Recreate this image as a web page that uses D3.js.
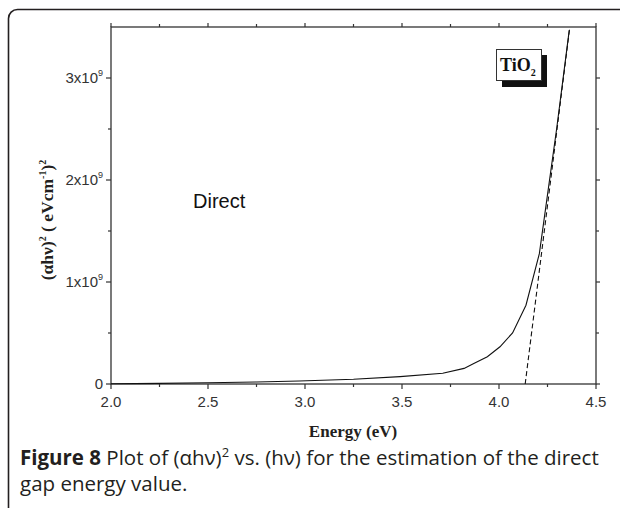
<!DOCTYPE html>
<html><head><meta charset="utf-8">
<script src="https://cdn.jsdelivr.net/npm/d3@7"></script>
<style>body{margin:0;background:#fff}svg{display:block}</style>
</head><body>
<svg id="c" width="620" height="508"></svg>
<script>
// Data (values in units of 1e9)
const energy = [2.0, 2.25, 2.5, 2.75, 2.97, 3.25, 3.49, 3.71, 3.82, 3.87, 3.94, 4.005, 4.07, 4.139, 4.208, 4.246, 4.297, 4.362];
const alphaHv2 = [0.003, 0.006, 0.012, 0.02, 0.029, 0.046, 0.072, 0.105, 0.153, 0.202, 0.267, 0.365, 0.501, 0.772, 1.278, 1.80, 2.50, 3.467];
const fitEnergy = [4.135, 4.365];
const fitValue = [0, 3.5];
const xTicks = [2.0, 2.5, 3.0, 3.5, 4.0, 4.5];
const yTicks = [0, 1, 2, 3];
const yTickLabels = ["0", "1x10", "2x10", "3x10"];

const svg = d3.select("#c");
const ink = "#231f20";

// frame
svg.append("rect").attr("x", 8.5).attr("y", 9.5).attr("width", 640).attr("height", 520)
  .attr("rx", 9).attr("fill", "none").attr("stroke", ink).attr("stroke-width", 1.6);

const L = 111, R = 596, T = 27, B = 384;
const x = d3.scaleLinear().domain([2.0, 4.5]).range([L, R]);
const y = d3.scaleLinear().domain([0, 3.5]).range([B, T]);

const g = svg.append("g");
// plot box
g.append("rect").attr("x", L).attr("y", T).attr("width", R - L).attr("height", B - T)
  .attr("fill", "none").attr("stroke", "#333").attr("stroke-width", 1.3);

// ticks
const xMinor = d3.range(2.25, 4.5, 0.5);
const yMinor = [0.5, 1.5, 2.5];
function tk(x1, y1, x2, y2) {
  g.append("line").attr("x1", x1).attr("y1", y1).attr("x2", x2).attr("y2", y2)
    .attr("stroke", "#333").attr("stroke-width", 1.2);
}
xTicks.forEach(v => { tk(x(v), B, x(v), B + 5); tk(x(v), T, x(v), T - 4); });
xMinor.forEach(v => { tk(x(v), B, x(v), B + 3); tk(x(v), T, x(v), T - 3); });
yTicks.forEach(v => { tk(L, y(v), L - 5, y(v)); tk(R, y(v), R + 4, y(v)); });
yMinor.forEach(v => { tk(L, y(v), L - 3, y(v)); tk(R, y(v), R + 3, y(v)); });

// x tick labels
xTicks.forEach(v => {
  g.append("text").attr("x", x(v)).attr("y", B + 23).attr("text-anchor", "middle")
    .attr("font-family", "Liberation Sans, Arial, sans-serif").attr("font-size", 15).attr("fill", "#333")
    .text(d3.format(".1f")(v));
});
// y tick labels
yTicks.forEach((v, i) => {
  const t = g.append("text").attr("x", L - 8).attr("y", y(v) + 5).attr("text-anchor", "end")
    .attr("font-family", "Liberation Sans, Arial, sans-serif").attr("font-size", 15).attr("fill", "#333");
  t.append("tspan").text(yTickLabels[i]);
  if (v !== 0) t.append("tspan").attr("dy", -7).attr("font-size", 9).text("9");
});

// axis titles
g.append("text").attr("x", 353).attr("y", 437).attr("text-anchor", "middle")
  .attr("font-family", "Liberation Serif, Times New Roman, serif").attr("font-weight", "bold")
  .attr("font-size", 17).attr("fill", ink).text("Energy (eV)");
const yl = g.append("text").attr("transform", "translate(53,220) rotate(-90)").attr("text-anchor", "middle")
  .attr("font-family", "Liberation Serif, Times New Roman, serif").attr("font-weight", "bold")
  .attr("font-size", 17.5).attr("fill", ink);
yl.append("tspan").text("(\u03b1h\u03bd)");
yl.append("tspan").attr("dy", -7).attr("font-size", 10).text("2");
yl.append("tspan").attr("dy", 7).text(" ( eVcm");
yl.append("tspan").attr("dy", -7).attr("font-size", 10).text("-1");
yl.append("tspan").attr("dy", 7).text(")");
yl.append("tspan").attr("dy", -7).attr("font-size", 10).text("2");

// curve
const pts = energy.map((e, i) => [e, alphaHv2[i]]);
g.append("path").datum(pts).attr("fill", "none").attr("stroke", "#111").attr("stroke-width", 1.1)
  .attr("d", d3.line().x(d => x(d[0])).y(d => y(d[1])));
// fit line
const fit = fitEnergy.map((e, i) => [e, fitValue[i]]);
g.append("path").datum(fit).attr("fill", "none").attr("stroke", "#111").attr("stroke-width", 1.1)
  .attr("stroke-dasharray", "5,3")
  .attr("d", d3.line().x(d => x(d[0])).y(d => y(d[1])));

// Direct label
g.append("text").attr("x", 193).attr("y", 208).attr("font-family", "Liberation Sans, Arial, sans-serif")
  .attr("font-size", 20).attr("fill", "#111").text("Direct");

// TiO2 box with shadow
g.append("rect").attr("x", 502).attr("y", 55).attr("width", 45).attr("height", 32).attr("fill", "#111");
g.append("rect").attr("x", 496.5).attr("y", 49.5).attr("width", 45).attr("height", 31).attr("fill", "#fff")
  .attr("stroke", "#333").attr("stroke-width", 1);
const tt = g.append("text").attr("x", 500).attr("y", 71).attr("font-family", "Liberation Serif, Times New Roman, serif")
  .attr("font-weight", "bold").attr("font-size", 18).attr("fill", "#111");
tt.append("tspan").text("TiO");
tt.append("tspan").attr("dy", 5).attr("font-size", 10).text("2");

// caption
const cap = svg.append("g").attr("font-family", "Open Sans, Noto Sans, sans-serif").attr("font-size", 20.5).attr("fill", ink);
const c1 = cap.append("text").attr("x", 20).attr("y", 465);
c1.append("tspan").attr("font-weight", "bold").text("Figure 8");
c1.append("tspan").text(" Plot of (\u03b1h\u03bd)");
c1.append("tspan").attr("dy", -8).attr("font-size", 13).text("2");
c1.append("tspan").attr("dy", 8).text(" vs. (h\u03bd) for the estimation of the direct");
cap.append("text").attr("x", 20).attr("y", 491).text("gap energy value.");
</script>
</body></html>
